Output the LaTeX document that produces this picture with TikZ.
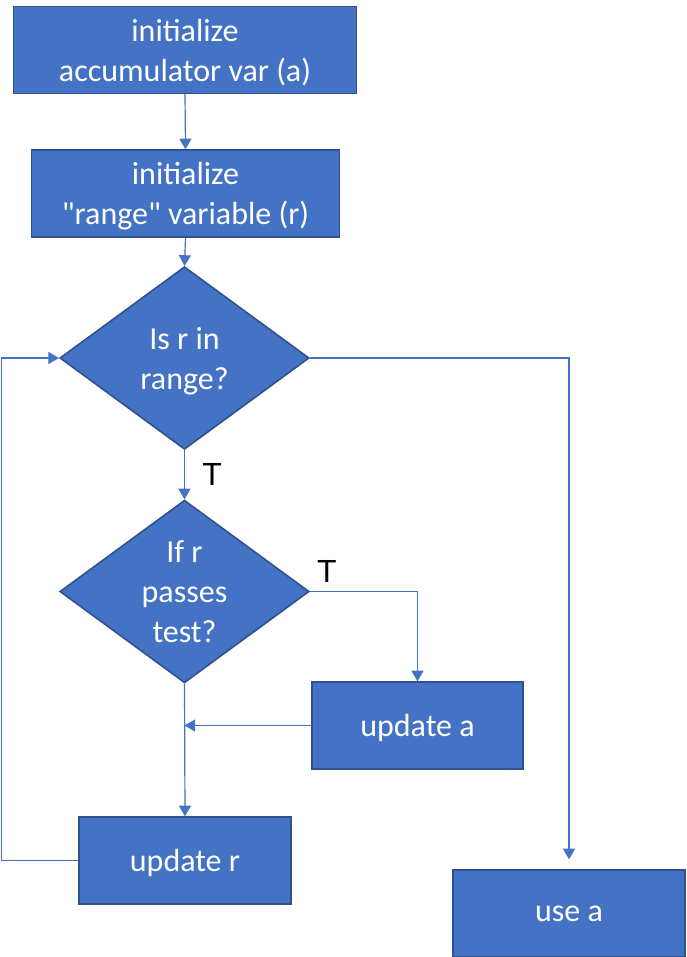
\documentclass[tikz,border=0pt]{standalone}
\usepackage{fontspec}
\setmainfont{Carlito}
\newfontfamily\tfont{Liberation Sans}
\usepackage{xcolor}
\usepackage{tikz}
\usetikzlibrary{shapes.geometric, arrows.meta, positioning, calc}

\definecolor{boxblue}{HTML}{4472C4}
\definecolor{edgeblue}{HTML}{2F528F}

\begin{document}
\begin{tikzpicture}[x=0.75pt, y=-0.75pt,
    block/.style={rectangle, draw=edgeblue, line width=1.2pt, fill=boxblue, text=white,
        align=center, font=\fontsize{24}{30}\selectfont, inner sep=0pt, text depth=0pt,
        minimum height=65pt},
    decision/.style={diamond, draw=edgeblue, line width=1.2pt, fill=boxblue, text=white,
        align=center, font=\fontsize{24}{30}\selectfont, inner sep=0pt, text depth=0pt,
        aspect=1.36, minimum width=187pt, minimum height=137pt},
    flow/.style={draw=boxblue, line width=0.9pt, -{Triangle[width=9pt, length=8pt]}},
    tlabel/.style={font=\tfont\fontsize{24}{28}\selectfont, inner sep=0pt}]
    \useasboundingbox (0,0) rectangle (686,957);

    % Initialisation
    \node[block, minimum width=257pt] (init_a) at (185,50) {initialize\\accumulator var (a)};
    \node[block, minimum width=231pt] (init_r) at (185.5,193.5) {initialize\\\textquotedbl range\textquotedbl{} variable (r)};

    % Tests
    \node[decision] (in_range) at (184.5,358) {Is r in\\range?};
    \node[decision] (passes) at (184.5,591.5) {If r\\passes\\test?};

    % Updates
    \node[block, minimum width=158pt] (upd_a) at (417.5,725.5) {update a};
    \node[block, minimum width=159pt] (upd_r) at (185,860.5) {update r};
    \node[block, minimum width=174pt] (use_a) at (569,913.5) {use a};

    % Connectors
    \draw[flow] (init_a.south) -- (init_r.north);
    \draw[flow] (init_r.south) -- (in_range.north);
    \draw[flow] (in_range.south) -- node[tlabel, right=13pt] {T} (passes.north);
    \draw[flow] (passes.east) node[tlabel, above right=6pt and 5pt] {T} -| (upd_a.north);
    \draw[flow] (upd_a.west) -- (upd_a.west -| passes.south);
    \draw[flow] (passes.south) -- (upd_r.north);

    % Loop back
    \coordinate (back) at (1.5,860.5);
    \draw[flow] (upd_r.west) -- (back) |- (in_range.west);
    \draw[flow, shorten >=7.5pt] (in_range.east) -| (use_a.north);
\end{tikzpicture}
\end{document}
